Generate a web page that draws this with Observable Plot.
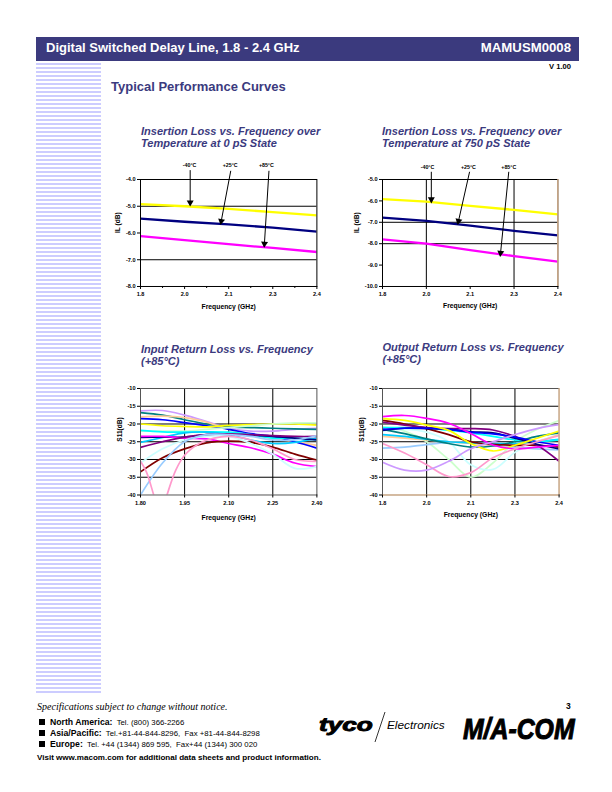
<!DOCTYPE html>
<html><head><meta charset="utf-8">
<script src="https://cdn.jsdelivr.net/npm/d3@7"></script>
<script src="https://cdn.jsdelivr.net/npm/@observablehq/plot@0.6"></script>
<style>
html,body{margin:0;padding:0;background:#fff;width:612px;height:792px;overflow:hidden;font-family:"Liberation Sans",Arial,sans-serif}
.a{position:absolute;white-space:nowrap}
.t{color:#3b3a7e;font-weight:bold;font-style:italic;font-size:11.05px;line-height:12px}
.f{font-size:7.8px;color:#000}.f b{font-size:8.7px}
.sq{position:absolute;left:39px;width:6px;height:6px;background:#000}
svg{display:block}
</style></head><body>
<div class="a" style="left:36px;top:37px;width:542.5px;height:24px;background:#3b3a7e"></div>
<div class="a" style="left:46px;top:39.5px;color:#fff;font-weight:bold;font-size:13px">Digital Switched Delay Line, 1.8 - 2.4 GHz</div>
<div class="a" style="right:41px;top:40px;color:#fff;font-weight:bold;font-size:13.2px">MAMUSM0008</div>
<div class="a" style="right:41px;top:62px;font-weight:bold;font-size:7.6px;color:#000">V 1.00</div>
<div class="a" style="left:36px;top:63px;width:65px;height:632px;background:repeating-linear-gradient(to bottom,#ccccff 0,#ccccff 2px,#fff 2px,#fff 4px)"></div>
<div class="a" style="left:111px;top:79px;color:#3b3a7e;font-weight:bold;font-size:13px">Typical Performance Curves</div>
<div class="a t" style="left:141px;top:124.5px">Insertion Loss vs. Frequency over<br>Temperature at 0 pS State</div>
<div class="a t" style="left:382px;top:124.5px">Insertion Loss vs. Frequency over<br>Temperature at 750 pS State</div>
<div class="a t" style="left:141px;top:342.5px">Input Return Loss vs. Frequency<br>(+85°C)</div>
<div class="a t" style="left:382.5px;top:340.5px">Output Return Loss vs. Frequency<br>(+85°C)</div>
<div id="c1"></div><div id="c2"></div><div id="c3"></div><div id="c4"></div>
<div class="a" style="left:37px;top:701px;font-family:'Liberation Serif',serif;font-style:italic;font-size:10px">Specifications subject to change without notice.</div>
<div class="sq" style="top:718.5px"></div><div class="sq" style="top:729.5px"></div><div class="sq" style="top:740.5px"></div>
<div class="a f" style="left:50px;top:717px"><b>North America:</b>&nbsp; Tel. (800) 366-2266</div>
<div class="a f" style="left:50px;top:728px"><b>Asia/Pacific:</b>&nbsp; Tel.+81-44-844-8296,&nbsp; Fax +81-44-844-8298</div>
<div class="a f" style="left:50px;top:739px"><b>Europe:</b>&nbsp; Tel. +44 (1344) 869 595,&nbsp; Fax+44 (1344) 300 020</div>
<div class="a" style="left:37px;top:752.5px;font-weight:bold;font-size:8.05px">Visit www.macom.com for additional data sheets and product information.</div>
<div class="a" style="left:566px;top:700.5px;font-weight:bold;font-size:8.5px">3</div>
<svg class="a" style="left:310px;top:700px;overflow:visible" width="280" height="60">
<text transform="translate(9,31) scale(1.38,1)" font-family="Liberation Sans" font-weight="bold" font-style="italic" font-size="19" stroke="#000" stroke-width="0.9">tyco</text>
<line x1="65" y1="42" x2="75" y2="12" stroke="#000" stroke-width="0.8"/>
<text x="77" y="29" font-family="Liberation Sans" font-style="italic" font-size="11.8">Electronics</text>
<text transform="translate(153,39) scale(1.24,1.5)" font-family="Liberation Sans" font-weight="bold" font-style="italic" font-size="20" stroke="#000" stroke-width="0.7">M/A-COM</text>
</svg>
<script>
const freqs = [1.8,1.875,1.95,2.025,2.1,2.175,2.25,2.325,2.4];
const ilFreqs = [1.8,1.95,2.1,2.25,2.4];
const pinkFreqs = [1.8,1.82,1.845,1.867,1.89,1.92,1.95,2.0,2.05,2.1,2.175,2.25,2.325,2.4];

const il0Cold = [-4.92,-5.0,-5.1,-5.22,-5.34];
const il0Room = [-5.46,-5.58,-5.68,-5.8,-5.95];
const il0Hot  = [-6.12,-6.27,-6.42,-6.56,-6.71];
const il750Cold = [-5.92,-6.03,-6.23,-6.42,-6.63];
const il750Room = [-6.78,-6.93,-7.16,-7.4,-7.61];
const il750Hot  = [-7.8,-8.0,-8.3,-8.58,-8.84];

const inLavender = [-16.3,-16.2,-17.5,-19.3,-21.2,-22,-22,-21.5,-21.2];
const inTeal     = [-16.8,-17.5,-18.8,-20,-20.8,-21,-21.2,-21.4,-21.5];
const inPeach    = [-18,-17.8,-18.2,-19.5,-21.5,-23,-24,-25,-26];
const inBlue     = [-18.5,-18.8,-19.6,-20.5,-21.5,-22.7,-23.5,-25,-26.8];
const inYellow   = [-20,-20.5,-20.7,-20.8,-20.4,-20.2,-20,-20,-20.3];
const inGreen    = [-22,-22,-22,-21.5,-21,-20.5,-20,-19.7,-19.7];
const inCyan     = [-21.8,-22.2,-22.3,-22.2,-22.3,-23,-24,-24,-24.5];
const inSky      = [-25.2,-23.8,-22.5,-22.3,-23,-24.5,-25.5,-25.2,-24];
const inNavy     = [-23.8,-23.7,-23.7,-23,-23,-23.2,-23.5,-24,-24.5];
const inMagenta  = [-23.5,-23.5,-24,-24.2,-25.5,-26.7,-28.5,-31,-32];
const inPurple   = [-26.6,-25,-23.7,-23,-22.8,-23,-23.3,-23.5,-23.5];
const inDarkRed  = [-33.5,-29.5,-27,-25.3,-24.8,-25.2,-26.5,-28.5,-30.2];
const inPaleCyan = [-31,-27,-24.5,-23.5,-23.5,-25.5,-28.5,-32.5,-32];
const inLightBlue= [-40,-31,-25,-23,-23,-23.5,-24.5,-24.5,-23.3];
const inPink     = [-30.5,-33.5,-40,-46,-40,-33,-28.8,-25.5,-24,-23.5,-24.5,-27,-30,-30.5];

const outMagenta  = [-17.9,-17.6,-18.4,-19.8,-22.7,-25.9,-27,-26.5,-26];
const outYellow   = [-18.5,-19,-20.3,-21.8,-25.5,-27.6,-26,-24,-22];
const outDarkRed  = [-19,-20,-21.3,-23,-25,-25.7,-26,-26,-26.5];
const outPurple   = [-19.5,-20.3,-21,-21.3,-21.3,-21.7,-23.5,-26,-30.5];
const outNavy     = [-21.8,-21.2,-21.3,-21.5,-22.2,-22.5,-24,-25.7,-27];
const outBlue     = [-21.5,-21.2,-21.2,-21.5,-22.3,-22.8,-23.7,-25,-26];
const outCyan     = [-21,-21,-21.2,-21.8,-22.5,-23.5,-24.5,-25,-24.5];
const outTeal     = [-21.5,-22.7,-24.2,-25.5,-26.5,-26.2,-25,-23.5,-22.5];
const outPaleCyan = [-22,-21.5,-22.3,-25,-31.5,-32.8,-28,-25,-23];
const outGreen    = [-20.8,-22,-25,-30,-35,-31,-25,-21.5,-19];
const outLightBlue= [-26.8,-26.5,-25.8,-25.2,-25.2,-25.8,-26.5,-27,-27.3];
const outPeach    = [-23.5,-24,-24.5,-25,-25.5,-26,-26,-25,-23];
const outSky      = [-23,-23.5,-24.3,-25,-25.3,-25.5,-25.5,-25,-24.3];
const outPink     = [-25.5,-28.2,-31.5,-34.8,-33.7,-29.5,-27,-25,-23.3];
const outLavender = [-30.8,-33,-33,-30.5,-27,-25,-23,-21.3,-20.2];

const tickValues = [1.8,1.95,2.1,2.25,2.4];
const tickLabelsRounded = ["1.8","2.0","2.1","2.3","2.4"];
const tickLabelsFine = ["1.80","1.95","2.10","2.25","2.40"];
const minorTicks = [1.875,2.025,2.175,2.325];
const tempLabels = ["-40°C","+25°C","+85°C"];

const C = {lavender:"#cc99ff",teal:"#008080",peach:"#ffcc99",blue:"#0000ff",yellow:"#ffff00",green:"#ccffcc",cyan:"#00ffff",sky:"#00ccff",navy:"#000080",magenta:"#ff00ff",purple:"#800080",darkRed:"#800000",paleCyan:"#ccffff",lightBlue:"#99ccff",pink:"#ff99cc"};

const rows = (xs, ys, color) => xs.map((x,i)=>({x, y:ys[i], color}));
const lineOf = (xs, ys, color, sw, curve) => Plot.line(rows(xs,ys,color),{x:"x",y:"y",stroke:"color",strokeWidth:sw,curve,clip:true});

function chart(id, o){
  const W=o.w, H=o.h, yd=o.yDomain, ppx=W/0.6, ppy=H/(yd[1]-yd[0]);
  const mL=36, mT=28, mB=32, mR=8;
  const labels=new Map(tickValues.map((v,i)=>[v,o.labels[i]]));
  const marks=[
    Plot.ruleX(o.gridX,{stroke:"#000",strokeWidth:1}),
    Plot.ruleY(o.gridY,{stroke:"#000",strokeWidth:1}),
    ...o.series,
    Plot.frame({stroke:o.frameColor||"#000",strokeWidth:1}),
    ...(o.edge||[]),
    Plot.axisX(tickValues,{tickSize:3,tickPadding:3,fontSize:5.6,fontWeight:"bold",tickFormat:d=>labels.get(d),label:null}),
    Plot.axisY(o.yTicks,{tickSize:3,tickPadding:2,fontSize:5.6,fontWeight:"bold",tickFormat:d=>d.toFixed(o.yDec),label:null}),
    Plot.text(["Frequency (GHz)"],{frameAnchor:"bottom",dy:o.xLabelDy,fontSize:6.8,fontWeight:"bold",fill:"#000"}),
    Plot.text([o.yLabel],{frameAnchor:"left",rotate:-90,dx:-o.yLabelDx,fontSize:6.6,fontWeight:"bold",fill:"#000"})
  ];
  if(o.minor) marks.push(Plot.axisX(minorTicks,{tickSize:2,tickFormat:()=>"",label:null}));
  if(o.arrows){
    const heads=o.arrows.map(a=>{
      const dx=(a.x2-a.x1)*ppx, dy=(a.y1-a.y2)*ppy, n=Math.hypot(dx,dy);
      return {x:a.x2-(dx/n*2.6)/ppx, y:a.y2+(dy/n*2.6)/ppy, rot:Math.atan2(dx,-dy)*180/Math.PI};
    });
    marks.push(
      Plot.link(o.arrows,{x1:"x1",y1:"y1",x2:"x2",y2:"y2",stroke:"#000",strokeWidth:1,clip:false}),
      Plot.dot(heads,{x:"x",y:"y",symbol:"triangle",r:2.6,fill:"#000",stroke:"none",rotate:"rot"}),
      Plot.text(o.arrows,{x:"lx",y:"ly",text:"t",fontSize:5.3,fontWeight:"bold",fill:"#000"})
    );
  }
  const svg=Plot.plot({width:W+mL+mR,height:H+mT+mB,marginLeft:mL,marginRight:mR,marginTop:mT,marginBottom:mB,
    x:{domain:[1.8,2.4],axis:null},y:{domain:yd,axis:null},
    style:{fontFamily:"Liberation Sans",background:"transparent",overflow:"visible"},marks});
  const el=document.getElementById(id);
  el.style.cssText=`position:absolute;left:${o.left-mL}px;top:${o.top-mT}px`;
  el.appendChild(svg);
}
const thick=(xs,ys,c)=>lineOf(xs,ys,c,2.3,"linear");
const thin=(ys,c)=>lineOf(freqs,ys,c,1.7,"catmull-rom");

chart("c1",{left:140.3,top:179.3,w:176.4,h:107,yDomain:[-8,-4],yTicks:[-4,-5,-6,-7,-8],yDec:1,gridX:[],gridY:[-5,-7],labels:tickLabelsRounded,minor:true,
  yLabel:"IL (dB)",yLabelDx:23,xLabelDy:23,
  series:[thick(ilFreqs,il0Cold,C.yellow),thick(ilFreqs,il0Room,C.navy),thick(ilFreqs,il0Hot,C.magenta)],
  arrows:[
    {x1:1.969,y1:-3.65,x2:1.969,y2:-4.96,lx:1.967,ly:-3.46,t:tempLabels[0]},
    {x1:2.107,y1:-3.675,x2:2.073,y2:-5.65,lx:2.105,ly:-3.46,t:tempLabels[1]},
    {x1:2.237,y1:-3.675,x2:2.221,y2:-6.5,lx:2.228,ly:-3.46,t:tempLabels[2]}
  ]});
chart("c2",{left:382.3,top:179.3,w:175.4,h:107,yDomain:[-10,-5],yTicks:[-5,-6,-7,-8,-9,-10],yDec:1,gridX:[1.95,2.25],gridY:[-7,-8],labels:tickLabelsRounded,
  yLabel:"IL (dB)",yLabelDx:26,xLabelDy:22,
  edge:[Plot.ruleX([2.4],{stroke:"#ffcc99",strokeWidth:1})],
  series:[thick(ilFreqs,il750Cold,C.yellow),thick(ilFreqs,il750Room,C.navy),thick(ilFreqs,il750Hot,C.magenta)],
  arrows:[
    {x1:1.967,y1:-4.64,x2:1.967,y2:-6.05,lx:1.954,ly:-4.44,t:tempLabels[0]},
    {x1:2.098,y1:-4.64,x2:2.058,y2:-7.06,lx:2.094,ly:-4.44,t:tempLabels[1]},
    {x1:2.232,y1:-4.64,x2:2.203,y2:-8.55,lx:2.232,ly:-4.44,t:tempLabels[2]}
  ]});
chart("c3",{left:140.3,top:387.5,w:176.4,h:106.5,yDomain:[-40,-10],yTicks:[-10,-15,-20,-25,-30,-35,-40],yDec:0,gridX:[1.95,2.1,2.25],gridY:[-15,-20,-25,-30,-35],labels:tickLabelsFine,frameColor:"#555",
  yLabel:"S11(dB)",yLabelDx:21,xLabelDy:25,
  series:[thin(inLavender,C.lavender),thin(inTeal,C.teal),thin(inPeach,C.peach),thin(inBlue,C.blue),thin(inYellow,C.yellow),thin(inGreen,C.green),thin(inCyan,C.cyan),thin(inSky,C.sky),thin(inNavy,C.navy),thin(inMagenta,C.magenta),thin(inPurple,C.purple),thin(inDarkRed,C.darkRed),thin(inPaleCyan,C.paleCyan),thin(inLightBlue,C.lightBlue),lineOf(pinkFreqs,inPink,C.pink,1.7,"catmull-rom")]});
chart("c4",{left:382.3,top:387.5,w:176.6,h:106.5,yDomain:[-40,-10],yTicks:[-10,-15,-20,-25,-30,-35,-40],yDec:0,gridX:[1.95,2.1,2.25],gridY:[-15,-20,-25,-30,-35],labels:tickLabelsRounded,frameColor:"#555",
  yLabel:"S11(dB)",yLabelDx:21,xLabelDy:22,
  edge:[Plot.ruleX([2.4],{stroke:"#ffcc99",strokeWidth:1}),Plot.ruleY([-40],{stroke:"#ffcc99",strokeWidth:1})],
  series:[thin(outGreen,C.green),thin(outPaleCyan,C.paleCyan),thin(outLightBlue,C.lightBlue),thin(outPeach,C.peach),thin(outSky,C.sky),thin(outTeal,C.teal),thin(outCyan,C.cyan),thin(outDarkRed,C.darkRed),thin(outPurple,C.purple),thin(outNavy,C.navy),thin(outBlue,C.blue),thin(outYellow,C.yellow),thin(outMagenta,C.magenta),thin(outPink,C.pink),thin(outLavender,C.lavender)]});
</script>
</body></html>
